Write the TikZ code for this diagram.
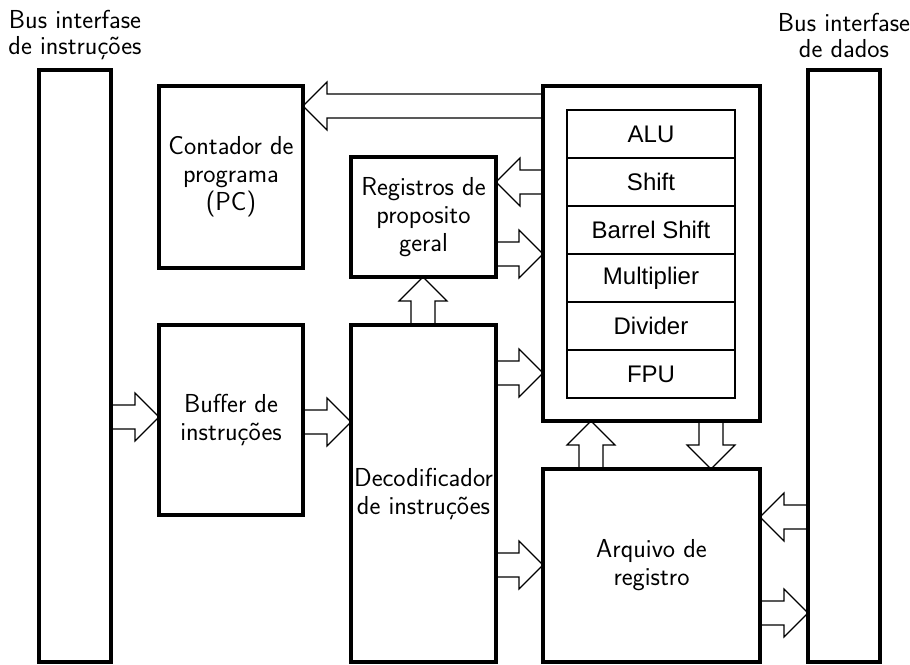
\documentclass[tikz,border=0pt]{standalone}
\usepackage{fontspec}
\newfontfamily\arialf{Liberation Sans}
\usetikzlibrary{calc}
\tikzset{
 box/.style={draw, line width=3.2pt, rectangle, inner sep=0pt, outer sep=0pt, align=center, font=\sffamily\fontsize{26}{28}\selectfont},
 unit/.style={draw, line width=2.4pt, rectangle, inner sep=0pt, outer sep=0pt, minimum width=168pt, minimum height=48pt, font=\arialf\fontsize{24}{27}\selectfont},
 lbl/.style={align=center, inner sep=0pt, font=\sffamily\fontsize{26}{26}\selectfont},
 blk/.style={draw, line width=1.2pt, line join=miter},
}
\newcommand\harrow[3]{\draw[blk] let \p1=(#1 |- 0,#3), \p2=(#2 |- 0,#3), \p3=($(\p2)!24pt!(\p1)$) in (\x1,\y2+12pt) -- (\x3,\y2+12pt) -- (\x3,\y2+24pt) -- (\x2,\y2) -- (\x3,\y2-24pt) -- (\x3,\y2-12pt) -- (\x1,\y2-12pt);}
\newcommand\varrow[3]{\draw[blk] let \p1=(#3,0 |- #1), \p2=(#3,0 |- #2), \p3=($(\p2)!24pt!(\p1)$) in (\x2-12pt,\y1) -- (\x2-12pt,\y3) -- (\x2-24pt,\y3) -- (\x2,\y2) -- (\x2+24pt,\y3) -- (\x2+12pt,\y3) -- (\x2+12pt,\y1);}
\begin{document}
\begin{tikzpicture}[x=1pt, y=-1pt]
\useasboundingbox (0,0) rectangle (910,664);
% bus bars
\node[box, minimum width=72pt, minimum height=592pt] (lbus) at (75,366) {};
\node[box, minimum width=72pt, minimum height=592pt] (rbus) at (844,366) {};
\node[lbl] (lbust) at (75,35) {Bus interfase\\de instruções};
\node[lbl] (rbust) at (844,35) {Bus interfase\\de dados};
% blocks
\node[box, minimum width=144pt, minimum height=182pt] (pc) at (231,177) {Contador de\\programa\\(PC)};
\node[box, minimum width=145pt, minimum height=120pt] (reg) at (423.5,217) {Registros de\\proposito\\geral};
\node[box, minimum width=144pt, minimum height=190pt] (buf) at (231,420) {Buffer de\\instruções};
\node[box, minimum width=145pt, minimum height=337pt] (dec) at (423.5,493.5) {Decodificador\\de instruções};
\node[box, minimum width=217pt, minimum height=335pt] (big) at (651.5,253.5) {};
\node[box, minimum width=217pt, minimum height=193pt] (arq) at (651.5,565.5) {Arquivo de\\registro};
% execution units
\node[unit] (alu) at (651,134) {ALU};
\node[unit] (shf) at (651,182) {Shift};
\node[unit] (bsh) at (651,230) {Barrel Shift};
\node[unit] (mul) at (651,278) {Multiplier};
\node[unit] (div) at (651,326) {Divider};
\node[unit] (fpu) at (651,374) {FPU};
% block arrows
\harrow{big.west}{pc.east}{106}
\harrow{big.west}{reg.east}{182}
\harrow{reg.east}{big.west}{254}
\harrow{dec.east}{big.west}{373}
\harrow{lbus.east}{buf.west}{417}
\harrow{buf.east}{dec.west}{422}
\varrow{dec.north}{reg.south}{423}
\varrow{arq.north}{big.south}{591}
\varrow{big.south}{arq.north}{711}
\harrow{dec.east}{arq.west}{565}
\harrow{rbus.west}{arq.east}{517}
\harrow{arq.east}{rbus.west}{613}
\end{tikzpicture}
\end{document}
